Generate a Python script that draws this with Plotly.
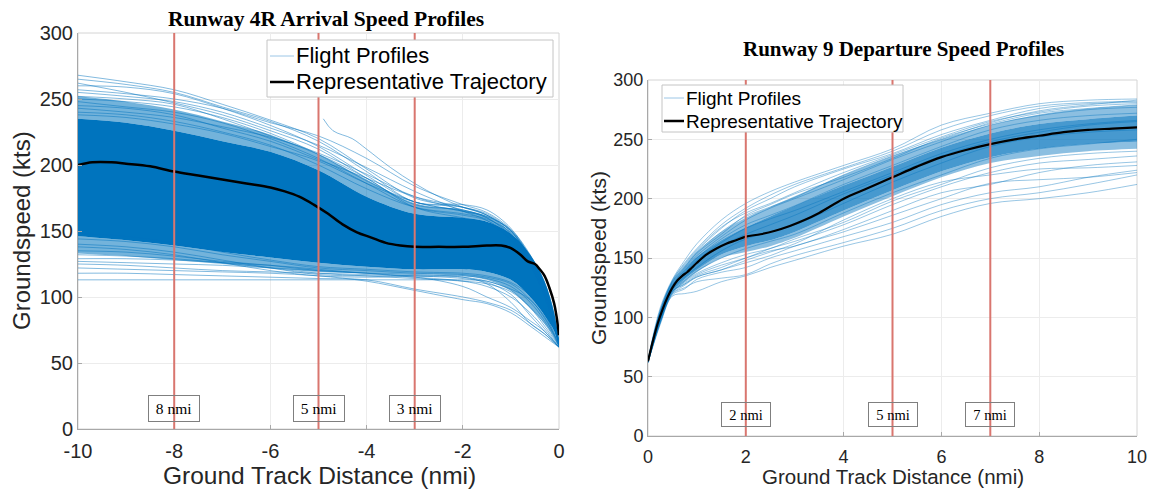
import plotly.graph_objects as go

# ---------------- DATA ----------------
# Left panel: Runway 4R arrivals (x: ground track distance, nmi)
arr_grid = [-10, -9, -8, -7, -6, -5, -4, -3, -2, -1.5, -1, -0.6, -0.3, 0]
arr_profiles = [
    [268, 263, 257, 246, 234, 220, 197, 175, 168, 163, 150, 128, 105, 65],
    [265, 261, 255, 244, 233, 218, 195, 172, 170, 166, 152, 130, 106, 66],
    [260, 259, 254, 243, 230, 214, 192, 172, 168, 162, 148, 126, 104, 65],
    [262, 255, 247, 238, 226, 212, 190, 170, 166, 160, 146, 125, 102, 64],
    [255, 252, 248, 240, 228, 215, 198, 180, 165, 158, 144, 124, 100, 64],
    [250, 248, 244, 236, 224, 208, 188, 172, 165, 160, 147, 127, 103, 65],
    [248, 244, 240, 232, 220, 205, 186, 168, 162, 158, 146, 126, 102, 64],
    [245, 243, 238, 228, 218, 204, 190, 176, 168, 162, 150, 129, 104, 66],
    [252, 250, 246, 235, 222, 208, 190, 168, 160, 156, 143, 124, 100, 64],
    [240, 238, 233, 225, 215, 200, 182, 168, 163, 159, 149, 130, 108, 66],
    [257, 254, 250, 243, 232, 222, 205, 184, 170, 164, 151, 129, 104, 65],
    [243, 240, 236, 229, 221, 209, 193, 176, 166, 161, 150, 131, 107, 66],
    [238, 236, 231, 224, 214, 203, 186, 172, 165, 161, 151, 132, 109, 67],
    [113, 113, 113, 113, 113, 113, 113, 113, 113, 112, 105, 92, 80, 63],
    [118, 118, 117, 116, 115, 114, 113, 106, 100, 96, 90, 80, 72, 62],
    [122, 121, 120, 119, 118, 116, 112, 105, 98, 95, 88, 78, 70, 62],
    [127, 126, 125, 124, 122, 120, 118, 115, 112, 108, 100, 88, 76, 62],
    [132, 131, 129, 126, 122, 118, 116, 114, 112, 110, 104, 92, 78, 63],
    [135, 134, 131, 127, 124, 120, 118, 116, 116, 114, 108, 96, 82, 63],
    [140, 138, 134, 128, 122, 117, 116, 116, 115, 112, 106, 98, 84, 64],
    [129, 129, 128, 126, 124, 121, 118, 117, 115, 110, 96, 80, 72, 62],
    [138, 136, 132, 126, 120, 116, 115, 115, 108, 100, 92, 82, 74, 62],
    [144, 142, 138, 132, 127, 122, 120, 118, 117, 115, 110, 98, 85, 63],
    [148, 146, 141, 134, 128, 123, 121, 119, 118, 116, 111, 101, 87, 64],
    [125, 124, 122, 120, 119, 118, 117, 116, 114, 111, 102, 86, 74, 62],
]
arr_partial_x = [-4.9, -4.7, -4.3, -4.0, -3.5, -3.0, -2.5, -2.0, -1.5, -1.0, -0.6, -0.3, 0]
arr_partial_y = [235, 226, 220, 212, 198, 186, 176, 168, 162, 150, 128, 104, 65]
arr_band_x = [-10, -9, -8, -7, -6, -5, -4, -3, -2, -1.5, -1, -0.6, -0.3, -0.1, 0]
arr_outer_upper = [252, 248, 242, 233, 223, 208, 189, 171, 166, 161, 149, 130, 108, 86, 66]
arr_core_upper = [235, 232, 226, 218, 210, 196, 176, 163, 160, 157, 148, 132, 112, 88, 66]
arr_core_lower = [146, 143, 139, 134, 130, 126, 123, 121, 121, 119, 113, 100, 86, 74, 62]
arr_outer_lower = [133, 131, 128, 125, 122, 119, 118, 117, 116, 113, 105, 92, 80, 70, 62]
arr_rep_x = [-10, -9.7, -9.3, -9, -8.5, -8, -7.5, -7, -6.5, -6, -5.7, -5.4, -5.1, -4.8,
             -4.5, -4.2, -3.9, -3.6, -3.3, -3, -2.5, -2, -1.5, -1.2, -1.0, -0.8, -0.65,
             -0.5, -0.4, -0.3, -0.2, -0.1, -0.05, 0]
arr_rep_y = [200, 202, 202, 201, 199, 195, 192, 189, 186, 183, 180, 176, 170, 163,
             155, 149, 145, 141, 139, 138, 138, 138, 139, 139, 137, 132, 127,
             125, 121, 116, 107, 95, 85, 71]
arr_markers = [-8, -5, -3]
arr_marker_labels = ["8 nmi", "5 nmi", "3 nmi"]
arr_xticks = [-10, -8, -6, -4, -2, 0]
arr_xticklabels = ["-10", "-8", "-6", "-4", "-2", "0"]

# Right panel: Runway 9 departures
dep_grid = [0, 0.25, 0.5, 0.75, 1, 1.5, 2, 2.5, 3, 4, 5, 6, 7, 8, 9, 10]
dep_profiles = [
    [64, 108, 132, 148, 162, 182, 196, 206, 214, 228, 242, 262, 272, 280, 283, 284],
    [63, 106, 131, 146, 158, 178, 192, 203, 212, 226, 240, 258, 270, 278, 281, 282],
    [63, 104, 130, 144, 156, 175, 190, 200, 210, 225, 238, 254, 266, 276, 280, 281],
    [64, 105, 131, 145, 157, 176, 188, 196, 205, 222, 237, 252, 265, 273, 278, 280],
    [63, 103, 129, 142, 154, 170, 186, 195, 204, 218, 234, 251, 263, 272, 276, 279],
    [63, 104, 128, 141, 152, 168, 182, 192, 200, 216, 233, 248, 262, 270, 275, 277],
    [64, 106, 130, 143, 155, 172, 185, 193, 201, 220, 236, 250, 264, 274, 279, 283],
    [62, 95, 118, 120, 122, 130, 135, 142, 148, 160, 170, 185, 196, 200, 205, 212],
    [62, 96, 120, 125, 130, 133, 136, 145, 152, 163, 175, 190, 200, 205, 212, 220],
    [62, 94, 119, 124, 132, 138, 142, 150, 156, 168, 180, 195, 205, 210, 218, 224],
    [62, 96, 121, 128, 134, 140, 146, 152, 160, 172, 186, 200, 213, 216, 218, 222],
    [62, 97, 122, 128, 135, 142, 150, 156, 160, 174, 190, 205, 212, 222, 228, 231],
    [63, 98, 122, 129, 136, 144, 150, 158, 164, 178, 195, 210, 222, 230, 233, 236],
    [62, 96, 120, 127, 134, 140, 148, 155, 162, 182, 200, 214, 220, 225, 226, 228],
    [63, 97, 121, 130, 137, 146, 153, 158, 166, 180, 198, 212, 226, 234, 238, 240],
    [63, 100, 125, 136, 146, 160, 170, 178, 186, 204, 220, 236, 248, 256, 262, 265],
    [63, 101, 126, 138, 148, 163, 175, 183, 190, 206, 222, 238, 250, 258, 263, 266],
    [63, 99, 124, 134, 142, 156, 166, 172, 178, 196, 214, 230, 244, 252, 256, 258],
    [63, 102, 127, 140, 150, 166, 178, 186, 194, 212, 228, 244, 258, 266, 270, 272],
    [62, 98, 123, 131, 139, 150, 158, 164, 170, 188, 205, 220, 234, 242, 246, 250],
]
dep_band_x = [0, 0.25, 0.5, 0.75, 1, 1.5, 2, 2.5, 3, 4, 5, 6, 7, 8, 9, 10]
dep_outer_upper = [64, 105, 130, 143, 155, 172, 184, 193, 202, 220, 236, 250, 262, 271, 276, 279]
dep_core_upper = [64, 103, 128, 140, 151, 165, 176, 185, 194, 211, 227, 243, 255, 263, 267, 270]
dep_core_lower = [62, 98, 122, 132, 140, 153, 160, 165, 172, 190, 207, 223, 235, 242, 246, 248]
dep_outer_lower = [62, 97, 121, 130, 138, 150, 155, 160, 167, 185, 202, 218, 230, 236, 240, 242]
dep_rep_x = [0, 0.1, 0.2, 0.3, 0.4, 0.5, 0.6, 0.7, 0.8, 0.9, 1.0, 1.2, 1.4, 1.6, 1.8, 2.0,
             2.3, 2.6, 2.9, 3.2, 3.5, 4.0, 4.5, 5.0, 5.5, 6.0, 6.5, 7.0, 7.5, 8.0, 8.5,
             9.0, 9.5, 10]
dep_rep_y = [63, 80, 95, 107, 117, 125, 131, 135, 138, 142, 146, 153, 158, 162, 165, 168,
             170, 173, 177, 182, 188, 200, 209, 218, 227, 235, 241, 246, 250, 253, 256,
             258, 259, 260]
dep_markers = [2, 5, 7]
dep_marker_labels = ["2 nmi", "5 nmi", "7 nmi"]
dep_xticks = [0, 2, 4, 6, 8, 10]

y_ticks = [0, 50, 100, 150, 200, 250, 300]
legend_labels = ["Flight Profiles", "Representative Trajectory"]

# ---------------- STYLE ----------------
W, H = 1152, 492
BLUE = "#0074BE"
PROFILE_L = "rgba(0,114,189,0.55)"
PROFILE_R = "rgba(0,114,189,0.45)"
LEGEND_PROFILE = "#9cc6e6"
RED = "#D9766F"
SANS = "Liberation Sans, Arial, sans-serif"
SERIF = "Liberation Serif, Times New Roman, serif"
TXT = "#262626"


def px(x):
    return x / W


def py(y):
    return 1 - y / H


fig = go.Figure()


def band(xs, lo, hi, color, xa, ya):
    fig.add_trace(go.Scatter(x=xs, y=lo, mode="lines", line=dict(width=0, shape="spline"),
                             showlegend=False, hoverinfo="skip", xaxis=xa, yaxis=ya))
    fig.add_trace(go.Scatter(x=xs, y=hi, mode="lines", line=dict(width=0, shape="spline"),
                             fill="tonexty", fillcolor=color, showlegend=False,
                             hoverinfo="skip", xaxis=xa, yaxis=ya))


# ---- left panel ----
band(arr_band_x, arr_core_upper, arr_outer_upper, "rgba(0,116,190,0.55)", "x", "y")
band(arr_band_x, arr_outer_lower, arr_core_lower, "rgba(0,116,190,0.55)", "x", "y")
band(arr_band_x, arr_core_lower, arr_core_upper, BLUE, "x", "y")
for prof in arr_profiles:
    fig.add_trace(go.Scatter(x=arr_grid, y=prof, mode="lines",
                             line=dict(color=PROFILE_L, width=0.9, shape="spline"),
                             name=legend_labels[0], showlegend=False, xaxis="x", yaxis="y"))
fig.add_trace(go.Scatter(x=arr_partial_x, y=arr_partial_y, mode="lines",
                         line=dict(color=PROFILE_L, width=0.9, shape="spline"),
                         showlegend=False, xaxis="x", yaxis="y"))
fig.add_trace(go.Scatter(x=arr_rep_x, y=arr_rep_y, mode="lines",
                         line=dict(color="black", width=2.5, shape="spline"),
                         name=legend_labels[1], showlegend=False, xaxis="x", yaxis="y"))

# ---- right panel ----
band(dep_band_x, dep_core_upper, dep_outer_upper, "rgba(0,114,189,0.45)", "x2", "y2")
band(dep_band_x, dep_outer_lower, dep_core_lower, "rgba(0,114,189,0.45)", "x2", "y2")
band(dep_band_x, dep_core_lower, dep_core_upper, "rgba(0,114,189,0.72)", "x2", "y2")
for prof in dep_profiles:
    fig.add_trace(go.Scatter(x=dep_grid, y=prof, mode="lines",
                             line=dict(color=PROFILE_R, width=0.9, shape="spline"),
                             name=legend_labels[0], showlegend=False, xaxis="x2", yaxis="y2"))
fig.add_trace(go.Scatter(x=dep_rep_x, y=dep_rep_y, mode="lines",
                         line=dict(color="black", width=2.2, shape="spline"),
                         name=legend_labels[1], showlegend=False, xaxis="x2", yaxis="y2"))

shapes = []
annotations = []
for xv, lab in zip(arr_markers, arr_marker_labels):
    shapes.append(dict(type="line", xref="x", yref="y", x0=xv, x1=xv, y0=0, y1=300,
                       line=dict(color=RED, width=2), layer="above"))
    annotations.append(dict(x=xv, y=15.5, xref="x", yref="y", text=lab, showarrow=False,
                            font=dict(family=SERIF, size=15.5, color="black"),
                            bordercolor="#7f7f7f", borderwidth=1, borderpad=4,
                            width=42, height=17, xanchor="center", yanchor="middle"))
for xv, lab in zip(dep_markers, dep_marker_labels):
    shapes.append(dict(type="line", xref="x2", yref="y2", x0=xv, x1=xv, y0=0, y1=300,
                       line=dict(color=RED, width=2), layer="above"))
    annotations.append(dict(x=xv, y=18, xref="x2", yref="y2", text=lab, showarrow=False,
                            font=dict(family=SERIF, size=14.5, color="black"),
                            bordercolor="#7f7f7f", borderwidth=1, borderpad=4,
                            width=40, height=15, xanchor="center", yanchor="middle"))

# light box around plot areas (top/right edges)
for xr, yr in (("x domain", "y domain"), ("x2 domain", "y2 domain")):
    shapes.append(dict(type="rect", xref=xr, yref=yr, x0=0, x1=1, y0=0, y1=1,
                       line=dict(color="#d4d4d4", width=1), layer="below"))


# MATLAB-style legend boxes (drawn on top of the marker lines)
def legend_box(x0, y0, x1, y1, rows, line_x0, line_x1, text_x, fsize):
    shapes.append(dict(type="rect", xref="paper", yref="paper", x0=px(x0), x1=px(x1),
                       y0=py(y1), y1=py(y0), fillcolor="white",
                       line=dict(color="#c4c4c4", width=1), layer="above"))
    styles = [dict(color=LEGEND_PROFILE, width=1), dict(color="black", width=2.5)]
    for (ry, lab), st in zip(rows, styles):
        shapes.append(dict(type="line", xref="paper", yref="paper", x0=px(line_x0),
                           x1=px(line_x1), y0=py(ry), y1=py(ry), line=st, layer="above"))
        annotations.append(dict(x=px(text_x), y=py(ry), xref="paper", yref="paper",
                                text=lab, showarrow=False, xanchor="left", yanchor="middle",
                                font=dict(family=SANS, size=fsize, color="black")))


legend_box(267, 40, 553, 97, [(56, legend_labels[0]), (82, legend_labels[1])],
           270, 294, 294, 22)
legend_box(662, 85, 903, 132, [(98, legend_labels[0]), (121, legend_labels[1])],
           664, 684, 684, 19)

# titles
annotations.append(dict(x=px(326), y=py(19), xref="paper", yref="paper", showarrow=False,
                        text="<b>Runway 4R Arrival Speed Profiles</b>",
                        font=dict(family=SERIF, size=21.5, color="black"),
                        xanchor="center", yanchor="middle"))
annotations.append(dict(x=px(903), y=py(49), xref="paper", yref="paper", showarrow=False,
                        text="<b>Runway 9 Departure Speed Profiles</b>",
                        font=dict(family=SERIF, size=21, color="black"),
                        xanchor="center", yanchor="middle"))
# axis titles
annotations.append(dict(x=px(21), y=py(231), xref="paper", yref="paper", showarrow=False,
                        text="Groundspeed (kts)", textangle=-90,
                        font=dict(family=SANS, size=24, color=TXT),
                        xanchor="center", yanchor="middle"))
annotations.append(dict(x=px(319), y=py(475), xref="paper", yref="paper", showarrow=False,
                        text="Ground Track Distance (nmi)",
                        font=dict(family=SANS, size=24.5, color=TXT),
                        xanchor="center", yanchor="middle"))
annotations.append(dict(x=px(598), y=py(258), xref="paper", yref="paper", showarrow=False,
                        text="Groundspeed (kts)", textangle=-90,
                        font=dict(family=SANS, size=21, color=TXT),
                        xanchor="center", yanchor="middle"))
annotations.append(dict(x=px(893), y=py(476), xref="paper", yref="paper", showarrow=False,
                        text="Ground Track Distance (nmi)",
                        font=dict(family=SANS, size=20.5, color=TXT),
                        xanchor="center", yanchor="middle"))

axis_common = dict(showgrid=True, gridcolor="#ececec", gridwidth=1, zeroline=False,
                   showline=True, linecolor="#a8a8a8", linewidth=1, mirror=False,
                   ticks="inside", ticklen=4, tickcolor="#a8a8a8", automargin=False)

fig.update_layout(
    width=W, height=H,
    margin=dict(l=0, r=0, t=0, b=0, autoexpand=False),
    paper_bgcolor="white", plot_bgcolor="white",
    showlegend=False,
    xaxis=dict(domain=[px(78), px(559)], range=[-10, 0], tickvals=arr_xticks,
               ticktext=arr_xticklabels, ticklabelstandoff=4,
               anchor="y", tickfont=dict(family=SANS, size=20, color=TXT), **axis_common),
    yaxis=dict(domain=[py(429), py(33)], range=[0, 300], tickvals=y_ticks,
               anchor="x", tickfont=dict(family=SANS, size=20, color=TXT), **axis_common),
    xaxis2=dict(domain=[px(648), px(1137)], range=[0, 10], tickvals=dep_xticks,
                ticklabelstandoff=4,
                anchor="y2", tickfont=dict(family=SANS, size=18, color=TXT), **axis_common),
    yaxis2=dict(domain=[py(436), py(80)], range=[0, 300], tickvals=y_ticks,
                anchor="x2", tickfont=dict(family=SANS, size=18, color=TXT), **axis_common),
    shapes=shapes,
    annotations=annotations,
)

fig.write_html("out.html")
